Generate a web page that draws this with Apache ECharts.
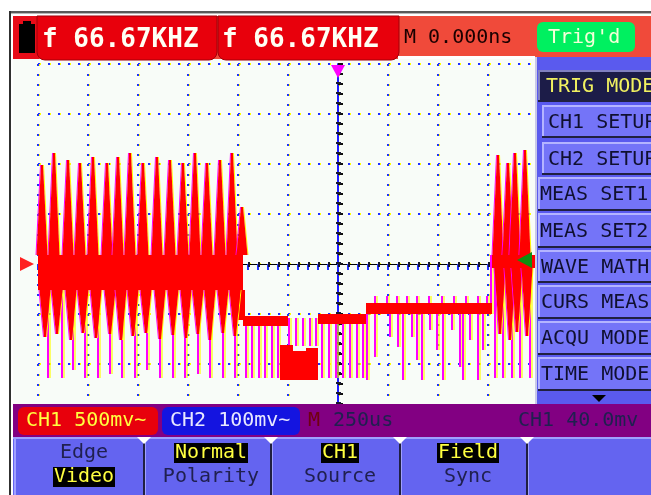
<!DOCTYPE html>
<html>
<head>
<meta charset="utf-8">
<script src="https://cdn.jsdelivr.net/npm/echarts@6/dist/echarts.min.js"></script>
<style>
  html, body { margin: 0; padding: 0; background: #fff; }
  #chart { width: 651px; height: 495px; }
</style>
</head>
<body>
<div id="chart"></div>
<script>
// time in us (250us/div, trigger at 0), level in mV (CH1 500mV/div)
var timeTicks = [-1500, 1500, 250];
var levelTicks = [-2000, 2000, 500];

// red filled trace bands: [t0, t1, top, bottom]
var bands = [
    [-1500, -475, 90, -260],
    [-500, -465, -260, -560],
    [-475, -250, -520, -620],
    [-290, -225, -810, -1160],
    [-225, -160, -870, -1160],
    [-160, -100, -840, -1160],
    [-100, 140, -500, -600],
    [140, 770, -390, -500],
    [770, 1010, 90, -40]
];

// upward wedges: [t, base, tip]
var upT = [-1480, -1420, -1350, -1290, -1225, -1155, -1100, -1040, -975, -905, -840, -775, -715, -655, -590, -530, -480, 800, 850, 885, 935];
var upTip = [990, 1110, 1040, 1010, 1070, 1010, 1070, 1110, 1010, 1070, 1040, 1010, 1110, 1010, 1040, 1110, 570, 1090, 1010, 1110, 1140];
var upBase = [90, 90, 90, 90, 90, 90, 90, 90, 90, 90, 90, 90, 90, 90, 90, 90, 90, 90, 90, 90, 90];

// downward wedges: [t, base, tip]
var downT = [-1465, -1405, -1335, -1275, -1210, -1140, -1085, -1025, -960, -890, -825, -760, -700, -640, -575, -515, 810, 860, 895, 945];
var downTip = [-730, -700, -760, -690, -740, -700, -760, -720, -690, -750, -710, -740, -700, -760, -690, -720, -700, -760, -680, -720];
var downBase = [-260, -260, -260, -260, -260, -260, -260, -260, -260, -260, -260, -260, -260, -260, -260, -260, -40, -40, -40, -40];

// thin trace strokes: [t, from, to]
var strokes = [
    [-1450, -260, -1140], [-1380, -260, -1140], [-1325, -260, -1060], [-1265, -260, -1140],
    [-1200, -260, -1140], [-1140, -260, -1100], [-1080, -260, -1140], [-1015, -260, -1140],
    [-955, -260, -1060], [-890, -260, -1140], [-825, -260, -1140], [-765, -260, -1140],
    [-700, -260, -1100], [-640, -260, -1140], [-575, -260, -1140], [-515, -260, -1140],
    [-460, -620, -1140], [-430, -620, -1140], [-395, -620, -1140], [-365, -620, -1140],
    [-330, -620, -1140], [-300, -620, -1140],
    [-245, -820, -540], [-210, -820, -540], [-175, -820, -540], [-140, -820, -540], [-110, -820, -540],
    [-80, -600, -1140], [-45, -600, -1140], [-10, -600, -1140], [25, -600, -1140],
    [60, -600, -1140], [95, -600, -1140], [125, -600, -1140],
    [145, -500, -1160], [185, -500, -930], [260, -500, -730], [300, -500, -830],
    [325, -500, -1160], [370, -500, -730], [395, -500, -960], [420, -500, -1160],
    [460, -500, -660], [495, -500, -860], [525, -500, -1160], [570, -500, -660],
    [610, -500, -1030], [625, -500, -1160], [660, -500, -760], [700, -500, -1160], [725, -500, -860],
    [185, -390, -320], [245, -390, -320], [295, -390, -320], [345, -390, -320], [395, -390, -320],
    [455, -390, -320], [520, -390, -320], [580, -390, -320], [640, -390, -320], [700, -390, -320], [745, -390, -320],
    [765, -500, 90],
    [785, -40, -1140], [825, -40, -1140], [870, -40, -1140], [910, -40, -1140], [960, -40, -1140]
];

var menuItems = ['TRIG MODE', 'CH1 SETUP', 'CH2 SETUP', 'MEAS SET1', 'MEAS SET2', 'WAVE MATH', 'CURS MEAS', 'ACQU MODE', 'TIME MODE'];
var softKeys = [['Edge', 'Video'], ['Normal', 'Polarity'], ['CH1', 'Source'], ['Field', 'Sync']];
var softKeyOn = [1, 0, 0, 0];

var chart = echarts.init(document.getElementById('chart'));
var MONO = 'DejaVu Sans Mono';

function pack3(a, b, c) {
    var out = [];
    for (var i = 0; i < a.length; i++) {
        out.push([a[i], b[i], c[i]]);
    }
    return out;
}

function renderBand(params, api) {
    var p0 = api.coord([api.value(0), api.value(2)]);
    var p1 = api.coord([api.value(1), api.value(3)]);
    return {
        type: 'rect',
        shape: {x: p0[0], y: p0[1], width: p1[0] - p0[0], height: p1[1] - p0[1]},
        style: {fill: '#ff0000'}
    };
}

function renderWedge(params, api) {
    var b = api.coord([api.value(0), api.value(1)]);
    var p = api.coord([api.value(0), api.value(2)]);
    var hw = 5.5, tw = 1;
    return {
        type: 'group',
        children: [
            {type: 'line', shape: {x1: b[0] - hw - 0.5, y1: b[1], x2: p[0] - tw - 0.5, y2: p[1]}, style: {stroke: '#ff00ff', lineWidth: 1}},
            {type: 'line', shape: {x1: b[0] + hw + 0.5, y1: b[1], x2: p[0] + tw + 0.5, y2: p[1]}, style: {stroke: '#ffff00', lineWidth: 1}},
            {type: 'polygon', shape: {points: [[b[0] - hw, b[1]], [p[0] - tw, p[1]], [p[0] + tw, p[1]], [b[0] + hw, b[1]]]}, style: {fill: '#ff0000'}}
        ]
    };
}

function renderStroke(params, api) {
    var a = api.coord([api.value(0), api.value(1)]);
    var b = api.coord([api.value(0), api.value(2)]);
    return {
        type: 'group',
        children: [
            {type: 'line', shape: {x1: a[0] + 2, y1: a[1], x2: b[0] + 2, y2: b[1]}, style: {stroke: '#ffff00', lineWidth: 1.2}},
            {type: 'line', shape: {x1: a[0], y1: a[1], x2: b[0], y2: b[1]}, style: {stroke: '#ff00ff', lineWidth: 2}}
        ]
    };
}

// ---- graphic chrome ----
var g = [];
function rect(x, y, w, h, fill, extra) {
    var r = {type: 'rect', shape: {x: x, y: y, width: w, height: h}, style: {fill: fill}, z: 100, silent: true};
    if (extra) {
        if (extra.r) r.shape.r = extra.r;
        if (extra.stroke) { r.style.stroke = extra.stroke; r.style.lineWidth = 1; }
        if (extra.z !== undefined) r.z = extra.z;
    }
    g.push(r);
}
function text(x, y, str, color, size, align, weight) {
    g.push({
        type: 'text', x: x, y: y, z: 102, silent: true,
        style: {text: str, fill: color, font: (weight || 'normal') + ' ' + (size || 20) + 'px "' + MONO + '"', textAlign: align || 'left', textVerticalAlign: 'middle'}
    });
}
function poly(points, fill) {
    g.push({type: 'polygon', shape: {points: points}, style: {fill: fill}, z: 101, silent: true});
}

// screen background outside the grid
rect(13, 59, 525, 346, '#f8fcf8', {z: 0});

// frame
rect(9, 11, 642, 2, '#5a5a5a');
rect(9, 13, 642, 1, '#b8b8b8');
rect(9, 11, 2, 484, '#303030');

// header
rect(13, 16, 638, 43, '#f04a3a');
rect(13, 16, 26, 43, '#e80c18');
rect(19, 24, 16, 29, '#000000');
rect(23, 21, 8, 4, '#000000');
rect(37, 16, 180, 44, '#e8000c', {r: [0, 0, 8, 8], stroke: '#a00008'});
rect(218, 16, 181, 44, '#e8000c', {r: [0, 0, 8, 8], stroke: '#a00008'});
g.push({type: 'text', x: 42, y: 40, z: 102, silent: true,
    style: {text: 'f 66.67KHZ', fill: '#fffff4', font: 'bold 26px "' + MONO + '"', textVerticalAlign: 'middle', textShadowColor: '#ffff00', textShadowOffsetX: 1}});
g.push({type: 'text', x: 222, y: 40, z: 102, silent: true,
    style: {text: 'f 66.67KHZ', fill: '#fffff4', font: 'bold 26px "' + MONO + '"', textVerticalAlign: 'middle', textShadowColor: '#ffff00', textShadowOffsetX: 1}});
rect(398, 56, 137, 3, '#ffffff');
text(404, 38, 'M 0.000ns', '#1a0000', 20);
rect(537, 22, 98, 30, '#00f060', {r: 6});
text(548, 38, "Trig'd", '#f4ffd8', 20);

// right menu
rect(535, 57, 116, 348, '#5a5aee');
rect(535, 57, 2, 348, '#c8c8e8');
var menuTop = [70, 105, 142, 177, 213, 250, 285, 321, 357];
var menuH = [32, 33, 33, 34, 35, 33, 34, 34, 34];
var menuX = [538, 542, 542, 538, 538, 538, 538, 538, 538];
var menuTx = [546, 548, 548, 540, 540, 541, 541, 541, 541];
for (var i = 0; i < menuItems.length; i++) {
    var on = i === 0;
    rect(menuX[i], menuTop[i], 651 - menuX[i], menuH[i], on ? '#1c1c48' : '#7474f8');
    rect(menuX[i], menuTop[i], 651 - menuX[i], 2, on ? '#8080c0' : '#b4b4ff');
    rect(menuX[i], menuTop[i], 2, menuH[i], on ? '#8080c0' : '#b4b4ff');
    rect(menuX[i], menuTop[i] + menuH[i] - 2, 651 - menuX[i], 2, '#202040');
    text(menuTx[i], menuTop[i] + menuH[i] / 2 + 1, menuItems[i], on ? '#f0f060' : '#101030', 20);
}
poly([[592, 395], [606, 395], [599, 402]], '#000000');

// status bar
rect(13, 404, 638, 33, '#820082');
rect(18, 407, 140, 28, '#e8000c', {r: 6});
text(26, 421, 'CH1 500mv~', '#ffff40', 20);
rect(162, 407, 138, 28, '#1414e0', {r: 6});
text(170, 421, 'CH2 100mv~', '#e8e8ff', 20);
text(308, 421, 'M', '#700010', 20);
text(333, 421, '250us', '#202050', 20);
text(518, 421, 'CH1 40.0mv', '#202050', 20);

// soft keys
rect(13, 437, 638, 58, '#6464f0');
rect(13, 437, 638, 2, '#a0a0ff');
rect(14, 437, 2, 58, '#a0a0ff');
var sepX = [143, 270, 399, 526];
for (var s = 0; s < sepX.length; s++) {
    rect(sepX[s], 440, 2, 55, '#202040');
    rect(sepX[s] + 2, 440, 1, 55, '#a0a0ff');
    poly([[sepX[s] - 6, 437], [sepX[s] + 8, 437], [sepX[s] + 1, 444]], '#ffffff');
}
var keyCx = [84, 211, 340, 468];
for (var k = 0; k < softKeys.length; k++) {
    for (var row = 0; row < 2; row++) {
        var label = softKeys[k][row];
        var cy = row === 0 ? 453 : 477;
        var hi = softKeyOn[k] === row;
        if (hi) {
            var w = label.length * 12 + 2;
            rect(keyCx[k] - w / 2, cy - 10, w, 20, '#000000');
        }
        text(keyCx[k], cy, label, hi ? '#ffff40' : '#202050', 20, 'center');
    }
}

// level / trigger markers
poly([[20, 257], [34, 264], [20, 271]], '#ff2020');
poly([[532, 252], [517, 260], [532, 268]], '#109010');
poly([[331, 65], [345, 65], [338, 78]], '#ff00ff');

var dotLine = {color: '#2030ff', width: 2, type: [2, 8], shadowColor: '#ffff00', shadowOffsetX: 1, shadowBlur: 0};

var option = {
    backgroundColor: '#ffffff',
    animation: false,
    grid: {left: 38, top: 64, width: 600, height: 400, show: true, backgroundColor: '#f8fcf8', borderWidth: 0},
    xAxis: {
        type: 'value', position: 'top',
        min: timeTicks[0], max: timeTicks[1], interval: timeTicks[2],
        axisLine: {show: true, lineStyle: {color: '#000000', width: 1}},
        axisTick: {show: true, inside: true, length: 6, lineStyle: {color: '#2030ff', width: 2}},
        minorTick: {show: true, splitNumber: 5, length: 6, lineStyle: {color: '#2030ff', width: 2}},
        axisLabel: {show: false},
        splitLine: {show: true, lineStyle: dotLine}
    },
    yAxis: {
        type: 'value',
        min: levelTicks[0], max: levelTicks[1], interval: levelTicks[2],
        axisLine: {show: true, lineStyle: {color: '#2020ff', width: 2}},
        axisTick: {show: true, inside: true, length: 5, lineStyle: {color: '#101010', width: 2}},
        minorTick: {show: true, splitNumber: 5, length: 5, lineStyle: {color: '#101010', width: 2}},
        axisLabel: {show: false},
        splitLine: {show: true, lineStyle: dotLine}
    },
    graphic: {elements: g},
    series: [
        {
            type: 'line', data: [], silent: true, z: 2,
            markLine: {
                silent: true, symbol: 'none', label: {show: false}, z: 2,
                lineStyle: {color: '#181830', width: 5, type: [2, 8]},
                data: [{xAxis: 0}, {yAxis: 0}]
            }
        },
        {type: 'custom', name: 'strokes', renderItem: renderStroke, data: strokes, encode: {x: 0, y: [1, 2]}, silent: true, z: 3},
        {type: 'custom', name: 'bands', renderItem: renderBand, data: bands, encode: {x: [0, 1], y: [2, 3]}, silent: true, z: 4},
        {type: 'custom', name: 'up', renderItem: renderWedge, data: pack3(upT, upBase, upTip), encode: {x: 0, y: [1, 2]}, silent: true, z: 4},
        {type: 'custom', name: 'down', renderItem: renderWedge, data: pack3(downT, downBase, downTip), encode: {x: 0, y: [1, 2]}, silent: true, z: 4}
    ]
};
chart.setOption(option);
</script>
</body>
</html>
